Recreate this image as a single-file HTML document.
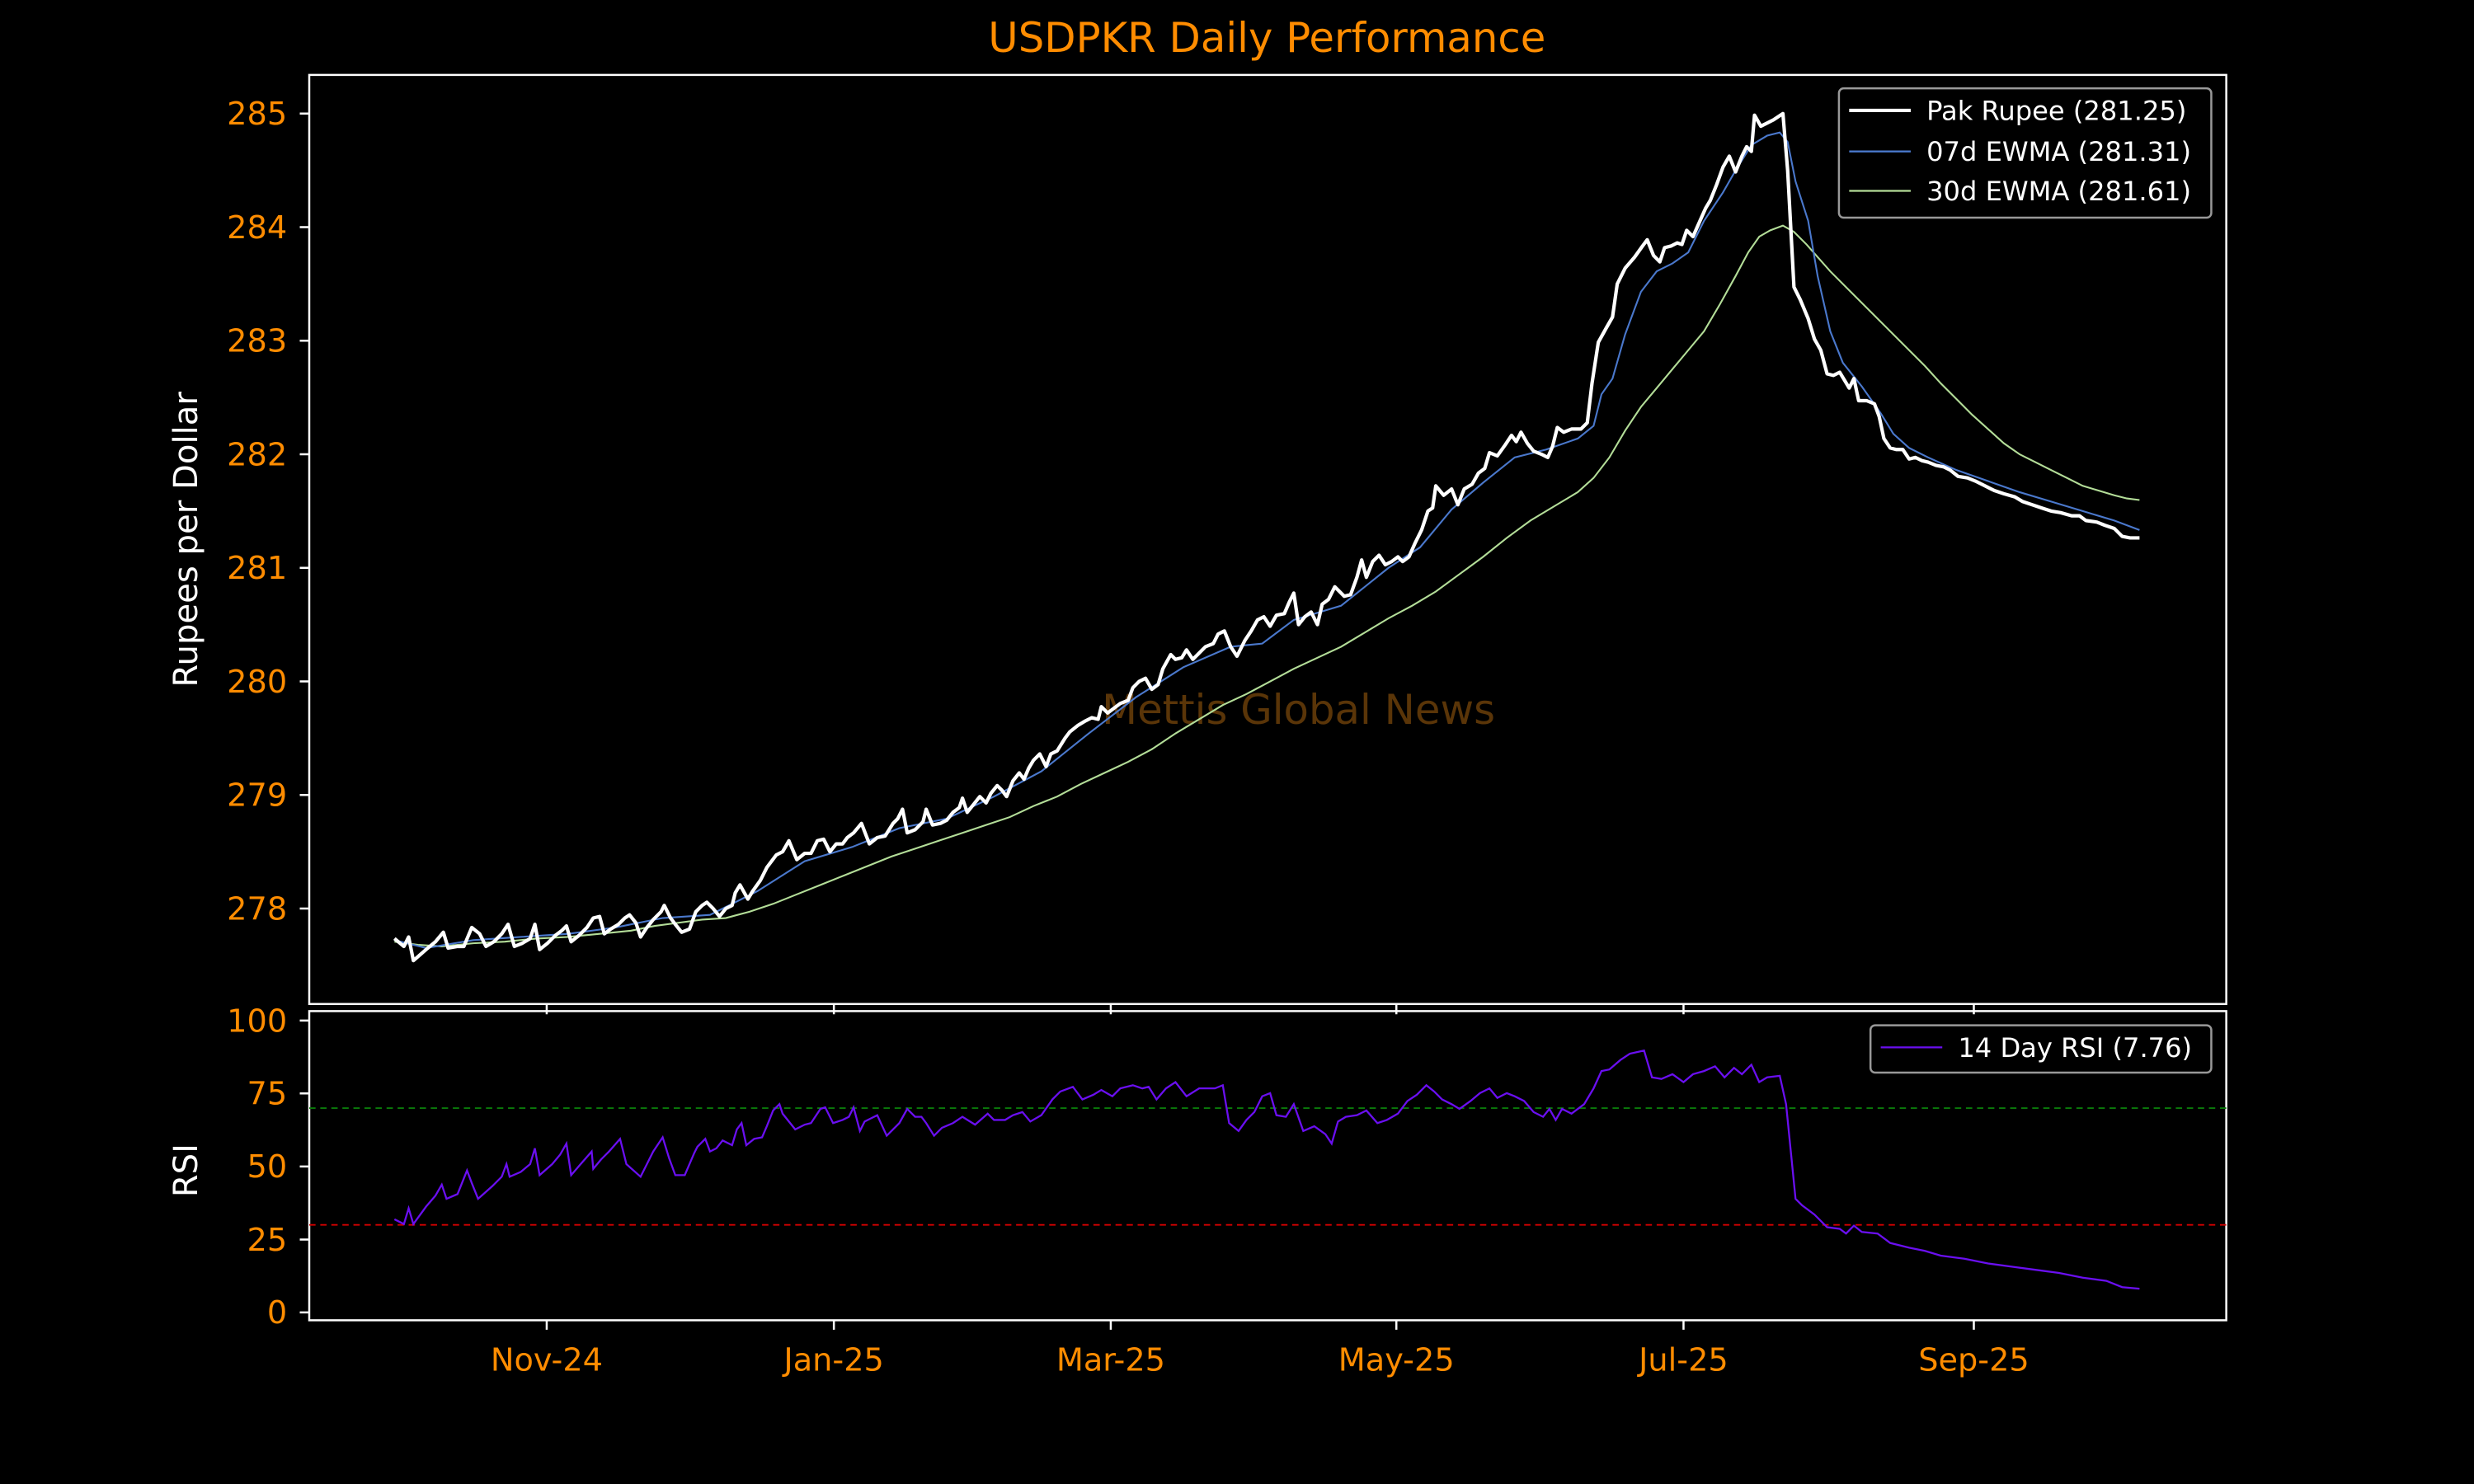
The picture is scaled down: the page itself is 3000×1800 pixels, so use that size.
<!DOCTYPE html>
<html><head><meta charset="utf-8"><style>
html,body{margin:0;padding:0;background:#000;width:3000px;height:1800px;overflow:hidden}
svg{display:block}
text{font-family:"DejaVu Sans","Liberation Sans",sans-serif}
</style></head><body>
<svg width="3000" height="1800" viewBox="0 0 1568 940.8" xmlns="http://www.w3.org/2000/svg">
<rect width="1568" height="941" fill="#000"/>
<text x="803" y="33" fill="#ff8c00" font-size="26" text-anchor="middle">USDPKR Daily Performance</text>
<text x="823" y="459" fill="#5a3508" font-size="26" text-anchor="middle">Mettis Global News</text>

<g stroke="#fff" stroke-width="1.3" fill="none">
<rect x="196" y="47.5" width="1215" height="589"/>
<rect x="196" y="641" width="1215" height="196"/>
<path d="M190 72H196M190 144H196M190 216H196M190 288H196M190 360H196M190 432H196M190 504H196M190 576H196"/>
<path d="M190 647H196M190 693.2H196M190 739.5H196M190 785.8H196M190 832H196"/>
<path d="M346.5 637V643M528.5 637V643M704 637V643M885 637V643M1067 637V643M1251 637V643"/>
<path d="M346.5 837V843M528.5 837V843M704 837V843M885 837V843M1067 837V843M1251 837V843"/>
</g>
<g fill="#ff8c00" font-size="20" text-anchor="end">
<text x="182" y="79">285</text><text x="182" y="151">284</text><text x="182" y="223">283</text><text x="182" y="295">282</text>
<text x="182" y="367">281</text><text x="182" y="439">280</text><text x="182" y="511">279</text><text x="182" y="583">278</text>
<text x="182" y="654">100</text><text x="182" y="700">75</text><text x="182" y="746.5">50</text><text x="182" y="793">25</text><text x="182" y="839">0</text>
</g>
<g fill="#ff8c00" font-size="20" text-anchor="middle">
<text x="346.5" y="869">Nov-24</text><text x="528.5" y="869">Jan-25</text><text x="704" y="869">Mar-25</text>
<text x="885" y="869">May-25</text><text x="1067" y="869">Jul-25</text><text x="1251" y="869">Sep-25</text>
</g>
<text transform="translate(125,342) rotate(-90)" fill="#fff" font-size="21" text-anchor="middle">Rupees per Dollar</text>
<text transform="translate(125,742) rotate(-90)" fill="#fff" font-size="21" text-anchor="middle">RSI</text>

<line x1="196" x2="1411" y1="702.5" y2="702.5" stroke="#0a7a0a" stroke-width="1" stroke-dasharray="4,3"/>
<line x1="196" x2="1411" y1="776.5" y2="776.5" stroke="#d40000" stroke-width="1" stroke-dasharray="4,3"/>

<polyline fill="none" stroke="#b3dd98" stroke-width="1.1" points="250,597 265,599 280,600 300,598 320,597 340,595 360,594 380,592 400,590 415,587 430,585 445,583 460,582 475,578 490,573 505,567 520,561 535,555 550,549 565,543 580,538 595,533 610,528 625,523 640,518 655,511 670,505 685,497 700,490 715,483 730,475 745,465 760,456 775,447 790,440 805,432 820,424 835,417 850,410 865,401 880,392 895,384 910,375 925,364 940,353 955,341 970,330 985,321 1000,312 1010,303 1020,290 1030,273 1040,258 1050,246 1060,234 1070,222 1080,210 1090,193 1100,175 1108,160 1115,150 1122,146 1130,143 1137,147 1145,155 1152,163 1160,172 1170,182 1180,192 1190,202 1200,212 1210,222 1220,232 1230,243 1240,253 1250,263 1260,272 1270,281 1280,288 1290,293 1300,298 1310,303 1320,308 1330,311 1340,314 1348,316 1356,317"/>
<polyline fill="none" stroke="#4a78cc" stroke-width="1.1" points="250,596 270,601 300,596 330,594 360,592 390,588 420,582 450,580 480,565 510,546 540,537 570,525 600,519 630,505 660,489 690,465 720,442 750,423 780,410 800,408 820,393 850,384 880,360 900,347 920,323 940,306 960,290 980,285 1000,278 1010,270 1015,250 1022,240 1030,212 1040,185 1050,172 1060,167 1070,160 1080,140 1092,122 1100,108 1110,92 1120,86 1128,84 1133,90 1138,115 1146,140 1152,175 1160,210 1168,230 1180,245 1192,262 1200,275 1210,284 1222,290 1240,298 1260,305 1280,312 1300,318 1320,324 1340,330 1356,336"/>
<polyline fill="none" stroke="#fff" stroke-width="2.2" stroke-linejoin="round" points="250,595 256,600 259,594 262,609 270,602 276,597 281,591 284,601 290,600 294,600 299,588 304,592 308,600 313,597 318,592 322,586 326,600 331,598 336,595 339,586 342,602 347,598 352,593 356,590 359,587 362,597 367,593 372,588 376,582 380,581 383,592 387,589 392,586 396,582 399,580 403,585 406,594 410,588 414,583 419,578 421,574 425,582 428,586 432,591 437,589 441,578 445,574 448,572 452,576 456,581 460,576 464,574 466,566 469,561 474,570 477,565 482,558 486,550 492,542 496,540 500,533 505,545 510,541 514,541 518,533 522,532 526,540 530,535 534,535 537,531 541,528 546,522 551,535 556,531 561,530 566,522 569,519 572,513 575,528 580,526 585,521 587,513 591,523 596,522 600,520 604,515 608,512 610,506 613,515 617,510 621,505 625,509 628,503 632,498 635,501 638,505 642,495 646,490 649,494 652,487 655,482 659,478 663,486 666,478 670,476 675,468 678,464 683,460 688,457 692,455 696,456 698,448 702,452 706,449 710,446 715,444 718,436 722,432 726,430 730,437 734,434 737,424 742,415 745,418 749,417 752,412 756,418 760,414 764,410 769,408 772,402 776,400 780,410 784,416 789,406 793,400 797,393 801,391 805,397 809,390 814,389 817,382 820,376 823,396 827,391 831,388 835,396 838,383 842,380 846,372 852,378 856,377 860,366 863,355 866,366 870,356 874,352 878,358 882,356 886,353 889,356 893,353 897,344 901,336 905,324 908,322 910,308 915,314 920,310 924,320 928,310 933,307 937,300 941,297 944,287 949,289 954,282 958,276 961,280 964,274 968,281 972,286 977,288 981,290 984,283 987,271 991,274 996,272 1002,272 1006,268 1009,243 1013,217 1018,208 1022,201 1025,180 1030,170 1036,163 1041,156 1044,152 1048,162 1052,166 1055,157 1059,156 1063,154 1066,155 1069,146 1073,150 1077,141 1081,132 1084,127 1088,117 1092,106 1096,99 1100,109 1104,99 1107,93 1110,96 1112,73 1116,80 1120,78 1124,76 1130,72 1133,108 1137,182 1141,190 1146,202 1150,215 1154,222 1158,237 1162,238 1166,236 1169,241 1172,246 1175,240 1178,254 1183,254 1188,256 1191,264 1194,278 1198,284 1202,285 1206,285 1210,291 1214,290 1218,292 1222,293 1227,295 1232,296 1236,298 1241,302 1247,303 1252,305 1258,308 1264,311 1270,313 1277,315 1282,318 1288,320 1294,322 1300,324 1306,325 1313,327 1318,327 1322,330 1329,331 1334,333 1340,335 1345,340 1350,341 1356,341"/>
<polyline fill="none" stroke="#6a0ff0" stroke-width="1.2" points="250,773 256,776 259,766 262,776 270,765 276,758 280,751 283,760 290,757 296,742 299,750 303,760 312,752 318,746 321,738 323,746 330,743 336,738 339,728 342,745 350,738 355,732 359,725 362,745 368,738 375,730 376,741 381,735 386,730 393,722 397,738 406,746 410,738 414,730 420,721 424,734 428,745 434,745 440,731 442,727 447,722 450,730 454,728 458,723 464,726 467,716 470,712 473,726 478,722 483,721 486,714 490,704 494,700 496,706 504,716 510,713 514,712 520,703 523,702 528,712 534,710 538,708 541,702 545,717 548,711 552,709 556,707 562,720 570,712 575,703 580,708 584,708 587,712 592,720 597,715 604,712 610,708 618,713 626,706 630,710 637,710 642,707 648,705 653,711 660,707 667,697 672,692 680,689 686,697 693,694 698,691 705,695 710,690 718,688 724,690 728,689 733,697 739,690 745,686 752,695 760,690 770,690 775,688 779,712 785,717 790,710 795,705 800,695 805,693 809,707 815,708 820,700 826,717 833,714 840,719 844,725 848,711 853,708 860,707 866,704 873,712 879,710 886,706 892,698 898,694 904,688 909,692 914,697 920,700 925,703 932,698 938,693 944,690 949,696 955,693 960,695 966,698 972,705 978,708 982,703 986,710 990,703 996,706 1004,700 1010,690 1015,679 1020,678 1027,672 1033,668 1042,666 1047,683 1053,684 1060,681 1067,686 1073,681 1080,679 1087,676 1093,683 1099,677 1104,681 1110,675 1115,686 1120,683 1128,682 1132,700 1135,730 1138,760 1142,764 1150,770 1158,778 1166,779 1170,782 1175,777 1180,781 1190,782 1198,788 1210,791 1220,793 1230,796 1245,798 1260,801 1275,803 1290,805 1305,807 1320,810 1335,812 1345,816 1356,817"/>

<rect x="1165.5" y="56" width="236" height="82" rx="3" fill="#000" stroke="#999" stroke-width="1.3"/>
<line x1="1172" x2="1211" y1="70" y2="70" stroke="#fff" stroke-width="2.2"/>
<line x1="1172" x2="1211" y1="96" y2="96" stroke="#4a78cc" stroke-width="1.2"/>
<line x1="1172" x2="1211" y1="121" y2="121" stroke="#b3dd98" stroke-width="1.2"/>
<g fill="#fff" font-size="16.8">
<text x="1221" y="76">Pak Rupee (281.25)</text>
<text x="1221" y="102">07d EWMA (281.31)</text>
<text x="1221" y="127">30d EWMA (281.61)</text>
</g>
<rect x="1185.5" y="650" width="216" height="30" rx="3" fill="#000" stroke="#999" stroke-width="1.3"/>
<line x1="1192" x2="1231" y1="664" y2="664" stroke="#6a0ff0" stroke-width="1.2"/>
<text x="1241" y="670" fill="#fff" font-size="16.8">14 Day RSI (7.76)</text>
</svg>
</body></html>
